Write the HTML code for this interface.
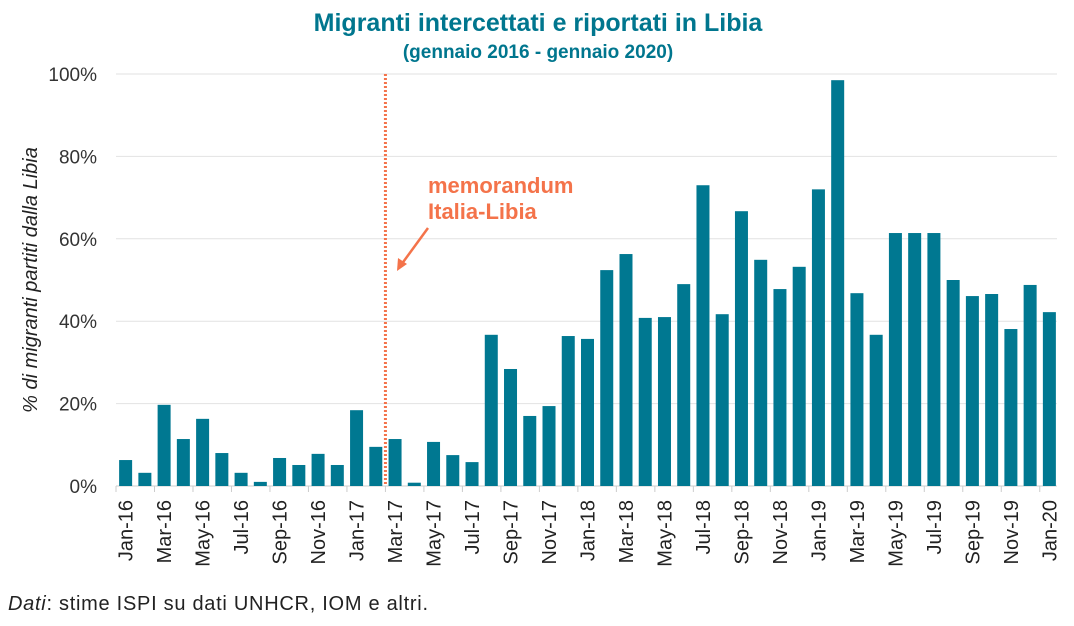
<!DOCTYPE html>
<html><head><meta charset="utf-8"><style>
body{margin:0;background:#fff;font-family:"Liberation Sans",sans-serif;}
</style></head><body>
<svg id="chart" width="1074" height="621" xmlns="http://www.w3.org/2000/svg">
<text x="538" y="31" text-anchor="middle" font-size="25" font-weight="bold" fill="#00768e">Migranti intercettati e riportati in Libia</text>
<text x="538" y="58" text-anchor="middle" font-size="19" font-weight="bold" fill="#00768e">(gennaio 2016 - gennaio 2020)</text>
<g id="grid"></g><g id="bars"></g><g id="xlabels"></g>
<text transform="translate(37,280) rotate(-90)" text-anchor="middle" font-size="20" font-style="italic" fill="#222">% di migranti partiti dalla Libia</text>
<text x="428" y="193" font-size="22" font-weight="bold" fill="#f4734a">memorandum</text>
<text x="428" y="219" font-size="22" font-weight="bold" fill="#f4734a">Italia-Libia</text>
<g><line x1="428" y1="228" x2="401" y2="265" stroke="#f4734a" stroke-width="2.5"/><polygon points="397,271 398,258 407,264" fill="#f4734a"/></g>
<text x="8" y="610" font-size="20" fill="#222" textLength="420"><tspan font-style="italic">Dati</tspan>: stime ISPI su dati UNHCR, IOM e altri.</text>
</svg>
<script>
const categories=["Jan-16","Feb-16","Mar-16","Apr-16","May-16","Jun-16","Jul-16","Aug-16","Sep-16","Oct-16","Nov-16","Dec-16","Jan-17","Feb-17","Mar-17","Apr-17","May-17","Jun-17","Jul-17","Aug-17","Sep-17","Oct-17","Nov-17","Dec-17","Jan-18","Feb-18","Mar-18","Apr-18","May-18","Jun-18","Jul-18","Aug-18","Sep-18","Oct-18","Nov-18","Dec-18","Jan-19","Feb-19","Mar-19","Apr-19","May-19","Jun-19","Jul-19","Aug-19","Sep-19","Oct-19","Nov-19","Dec-19","Jan-20"];
const values=[6.3,3.2,19.7,11.4,16.3,8,3.2,1,6.8,5.1,7.8,5.1,18.4,9.5,11.4,0.8,10.7,7.5,5.8,36.7,28.4,17,19.4,36.4,35.7,52.4,56.3,40.8,41,49,73,41.7,66.7,54.9,47.8,53.2,72,98.5,46.8,36.7,61.4,61.4,61.4,50,46.1,46.6,38.1,48.8,42.2];
const yTicks=[0,20,40,60,80,100];
const memoIndex=13.5;
const NS="http://www.w3.org/2000/svg";
const L=116,R=1059,T=74,B=486,step=(R-L)/categories.length;
const y=v=>B-(B-T)*v/100;
const xc=i=>L+step*(i+0.5);
function mk(t,a,p){const e=document.createElementNS(NS,t);for(const k in a)e.setAttribute(k,a[k]);p.appendChild(e);return e;}
const g=document.getElementById('grid'),b=document.getElementById('bars'),xl=document.getElementById('xlabels');
yTicks.forEach(t=>{
 const l=mk('line',{x1:L,x2:1057,y1:y(t),y2:y(t),stroke:t===0?'#ccc':'#e2e2e2','stroke-width':1},g);
 
 
 const tx=mk('text',{x:97,y:y(t)+7,'text-anchor':'end','font-size':19,fill:'#333'},g);
 tx.textContent=t+'%';
 
 
});
values.forEach((v,i)=>{
 const r=mk('rect',{x:xc(i)-6.5,y:y(v),width:13,height:B-y(v),fill:'#007891'},b);
 
 
});
categories.forEach((c,i)=>{
 if(i%2)return;
 const tk=mk('line',{x1:L+step*i,x2:L+step*i,y1:B,y2:B+6,stroke:'#ccc'},xl);
 
 
 const t=mk('text',{transform:`translate(${xc(i)+7},${B+14}) rotate(-90)`,'text-anchor':'end','font-size':20,fill:'#222'},xl);
 t.textContent=c;
 
 
});
const mx=L+step*(memoIndex+0.5);
const ml=mk('line',{x1:mx,x2:mx,y1:74,y2:B,stroke:'#f4734a','stroke-width':3,'stroke-dasharray':'2,2'},b);


</script>
</body></html>
